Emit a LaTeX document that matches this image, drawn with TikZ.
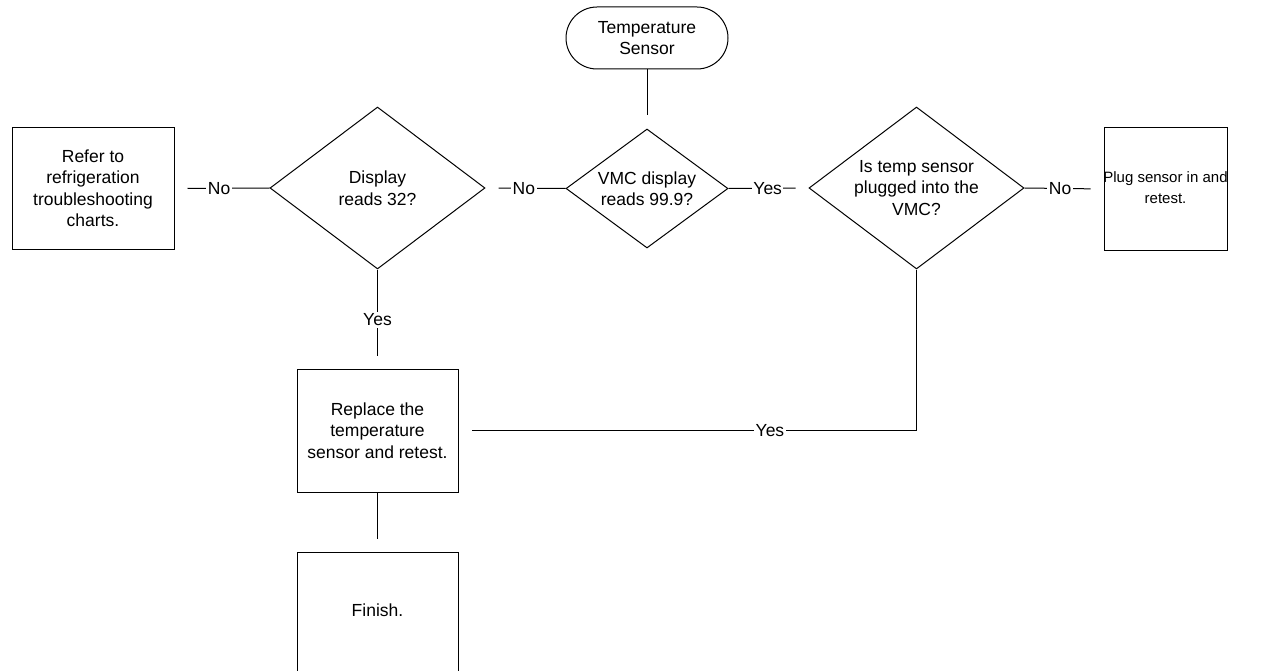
\documentclass[tikz,border=0pt]{standalone}
\usepackage{fontspec}
\setmainfont{Liberation Sans}
\usetikzlibrary{shapes.geometric}
\begin{document}
\begin{tikzpicture}[x=1pt,y=-1pt,
  every node/.style={font=\fontsize{17.5}{21.5}\selectfont},
  base/.style={draw=black, line width=1pt, align=center, inner sep=0pt},
  procbox/.style={base, rectangle},
  decision/.style={base, diamond},
  dtext/.style={align=center, inner sep=0pt},
  terminal/.style={base, rectangle, rounded corners=31pt, minimum width=162pt, minimum height=62pt},
  conn/.style={draw=black, line width=1pt, shorten >=13pt},
  lbl/.style={fill=white, inner sep=1.5pt}]
\useasboundingbox (0,0) rectangle (1268,671);
\node[terminal] (start) at (647,38) {Temperature\\Sensor};
\node[decision, minimum width=162pt, minimum height=119pt] (vmc) at (647,188.5) {};
\node[dtext] (vmct) at (vmc.center) {VMC display\\reads 99.9?};
\node[decision, minimum width=215pt, minimum height=162pt] (disp) at (377.5,188) {};
\node[dtext] (dispt) at (disp.center) {Display\\reads 32?};
\node[decision, minimum width=215pt, minimum height=162pt] (plugged) at (916.5,188) {};
\node[dtext] (pluggedt) at (plugged.center) {Is temp sensor\\plugged into the\\VMC?};
\node[procbox, minimum width=162pt, minimum height=121pt] (refer) at (93,188.5) {Refer to\\refrigeration\\troubleshooting\\charts.};
\node[procbox, minimum width=123pt, minimum height=122pt] (plug) at (1165.5,189) {};
\node[dtext, font=\fontsize{15}{21}\selectfont] (plugt) at ([yshift=1.5pt]plug.center) {Plug sensor in and\\retest.};
\node[procbox, minimum width=161pt, minimum height=123pt] (replace) at (377.5,430.5) {Replace the\\temperature\\sensor and retest.};
\node[procbox, minimum width=161pt, minimum height=124pt] (finish) at (377.5,614) {};
\node[dtext] (finisht) at (377.5,610) {Finish.};

\draw[conn] (start.south) -- (vmc.north);
\draw[conn] (vmc.west) -- node[lbl, pos=0.52] {No} (disp.east);
\draw[conn] (disp.west) -- node[lbl, pos=0.53] {No} (refer.east);
\draw[conn] (vmc.east) -- node[lbl, pos=0.49] {Yes} (plugged.west);
\draw[conn] (plugged.east) -- node[lbl, pos=0.45] {No} (plug.west);
\draw[conn] (disp.south) -- node[lbl, pos=0.51] {Yes} (replace.north);
\draw[conn] (plugged.south) |- node[lbl, pos=0.66] {Yes} (replace.east);
\draw[conn] (replace.south) -- (finish.north);
\end{tikzpicture}
\end{document}
